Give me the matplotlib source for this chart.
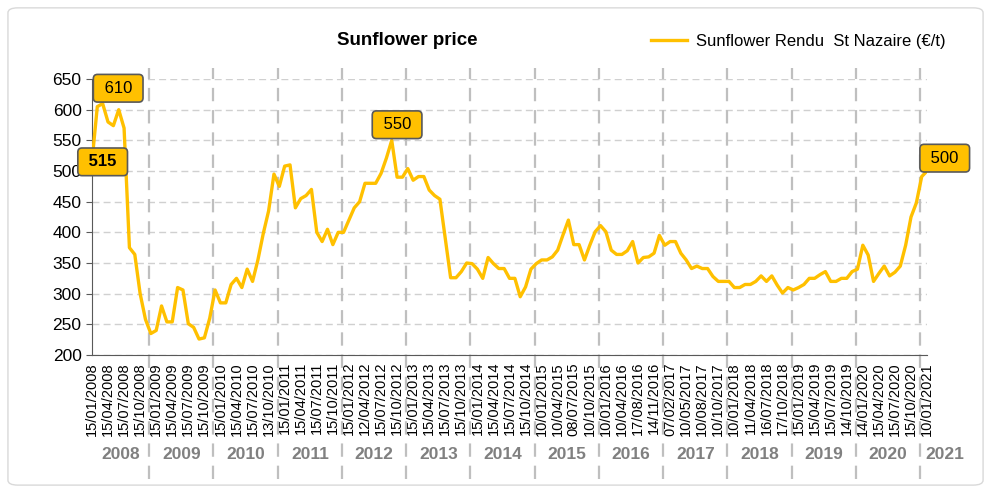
import matplotlib.pyplot as plt
from matplotlib.patches import FancyBboxPatch
import matplotlib.transforms as mtransforms

plt.rcParams['font.family'] = ['Liberation Sans', 'DejaVu Sans']

# Monthly price, Jan 2008 -> Jan 2021 (€/t)
prices = [
    515, 605, 610, 580, 574, 600, 570, 375, 364, 300, 258, 235,   # 2008
    240, 280, 254, 254, 310, 306, 251, 245, 226, 228, 260, 306,   # 2009
    285, 285, 315, 325, 310, 340, 320, 355, 398, 435, 495, 475,   # 2010
    508, 510, 440, 455, 460, 470, 400, 385, 405, 380, 400, 400,   # 2011
    420, 440, 450, 480, 480, 480, 496, 521, 550, 490, 490, 504,   # 2012
    485, 491, 491, 469, 460, 454, 390, 326, 326, 336, 350, 349,   # 2013
    340, 325, 359, 349, 341, 341, 325, 325, 295, 311, 340, 349,   # 2014
    355, 355, 360, 371, 396, 420, 380, 380, 355, 379, 401, 411,   # 2015
    401, 371, 364, 364, 370, 385, 350, 359, 360, 366, 395, 379,   # 2016
    385, 385, 366, 355, 341, 345, 341, 341, 328, 320, 320, 320,   # 2017
    310, 310, 315, 315, 320, 329, 320, 329, 314, 301, 310, 306,   # 2018
    310, 315, 325, 325, 331, 336, 320, 320, 325, 325, 336, 340,   # 2019
    379, 363, 320, 333, 345, 329, 335, 345, 379, 425, 448, 491,   # 2020
    500,                                                          # 2021
]

tick_dates = [
    "15/01/2008", "15/04/2008", "15/07/2008", "15/10/2008",
    "15/01/2009", "15/04/2009", "15/07/2009", "15/10/2009",
    "15/01/2010", "15/04/2010", "15/07/2010", "13/10/2010",
    "15/01/2011", "15/04/2011", "15/07/2011", "15/10/2011",
    "15/01/2012", "12/04/2012", "15/07/2012", "15/10/2012",
    "15/01/2013", "15/04/2013", "15/07/2013", "15/10/2013",
    "15/01/2014", "15/04/2014", "15/07/2014", "15/10/2014",
    "10/01/2015", "10/04/2015", "08/07/2015", "10/10/2015",
    "10/01/2016", "10/04/2016", "17/08/2016", "14/11/2016",
    "07/02/2017", "10/05/2017", "10/08/2017", "10/10/2017",
    "10/01/2018", "11/04/2018", "16/07/2018", "17/10/2018",
    "15/01/2019", "15/04/2019", "15/07/2019", "14/10/2019",
    "14/01/2020", "15/04/2020", "15/07/2020", "15/10/2020",
    "10/01/2021",
]

years = [str(y) for y in range(2008, 2022)]

# labelled points: (index, text, bold)
callouts = [(0, "515", True), (2, "610", False), (56, "550", False), (156, "500", False)]

gold = "#FFC000"
x = list(range(len(prices)))

fig = plt.figure(figsize=(9.93, 4.91), dpi=100)
ax = fig.add_axes([0.0926, 0.277, 0.841, 0.562])

# outer frame
fig.patches.append(FancyBboxPatch((0.008, 0.012), 0.982, 0.972,
                                  boxstyle="round,pad=0,rounding_size=0.01",
                                  transform=fig.transFigure, fill=False,
                                  edgecolor="#d9d9d9", linewidth=1.0))

ax.plot(x, prices, color=gold, linewidth=2.4, label="Sunflower Rendu  St Nazaire (€/t)",
        zorder=3, solid_joinstyle="round")

ax.set_xlim(0, 156)
ax.set_ylim(200, 650)
ax.set_yticks(range(200, 651, 50))
ax.yaxis.grid(True, color="#d0d0d0", linestyle=(0, (5, 3)), linewidth=1)
ax.set_axisbelow(True)

ax.set_xticks(range(0, len(prices), 3))
ax.set_xticklabels(tick_dates, rotation=90, fontsize=10.5)
ax.set_xticks(range(0, len(prices), 6), minor=True)
ax.tick_params(axis="x", which="major", length=0, pad=5)
ax.tick_params(axis="x", which="minor", length=4, color="#595959")
ax.tick_params(axis="y", labelsize=12.5, length=4, color="#595959")

for s in ["top", "right"]:
    ax.spines[s].set_visible(False)
for s in ["left", "bottom"]:
    ax.spines[s].set_color("#595959")

# year separators and year names
trans = mtransforms.blended_transform_factory(ax.transData, ax.transAxes)
seps = [12 * k - 1.3 for k in range(1, 14)]
for sx in seps:
    ax.plot([sx, sx], [-0.45, 1.04], transform=trans, clip_on=False,
            color="#bfbfbf", linestyle=(0, (6, 4)), linewidth=1.6, zorder=1)
edges = [0] + seps + [164]
for i, yr in enumerate(years):
    cx = (edges[i] + edges[i + 1]) / 2
    ax.text(cx, -0.36, yr, transform=trans, ha="center", va="center",
            fontsize=12.5, fontweight="bold", color="#808080")

# value callouts
offsets = {0: (2, 0), 2: (2.9, 25), 56: (1, 25.5), 156: (3.3, 21)}
for idx, txt, bold in callouts:
    dx, dy = offsets[idx]
    ax.text(idx + dx, prices[idx] + dy, " " + txt + " ", ha="center", va="center",
            fontsize=12, fontweight="bold" if bold else "normal", zorder=5, clip_on=False,
            bbox=dict(boxstyle="round,pad=0.38,rounding_size=0.25", facecolor=gold,
                      edgecolor="#595959", linewidth=1.2))

ax.text(0.377, 1.14, "Sunflower price", transform=ax.transAxes, ha="center",
        va="center", fontsize=13.5, fontweight="bold")
ax.legend(loc="center right", bbox_to_anchor=(1.03, 1.135), frameon=False,
          fontsize=12, handlelength=2.2, handletextpad=0.5, borderaxespad=0)

fig.savefig("out.png", dpi=100)
